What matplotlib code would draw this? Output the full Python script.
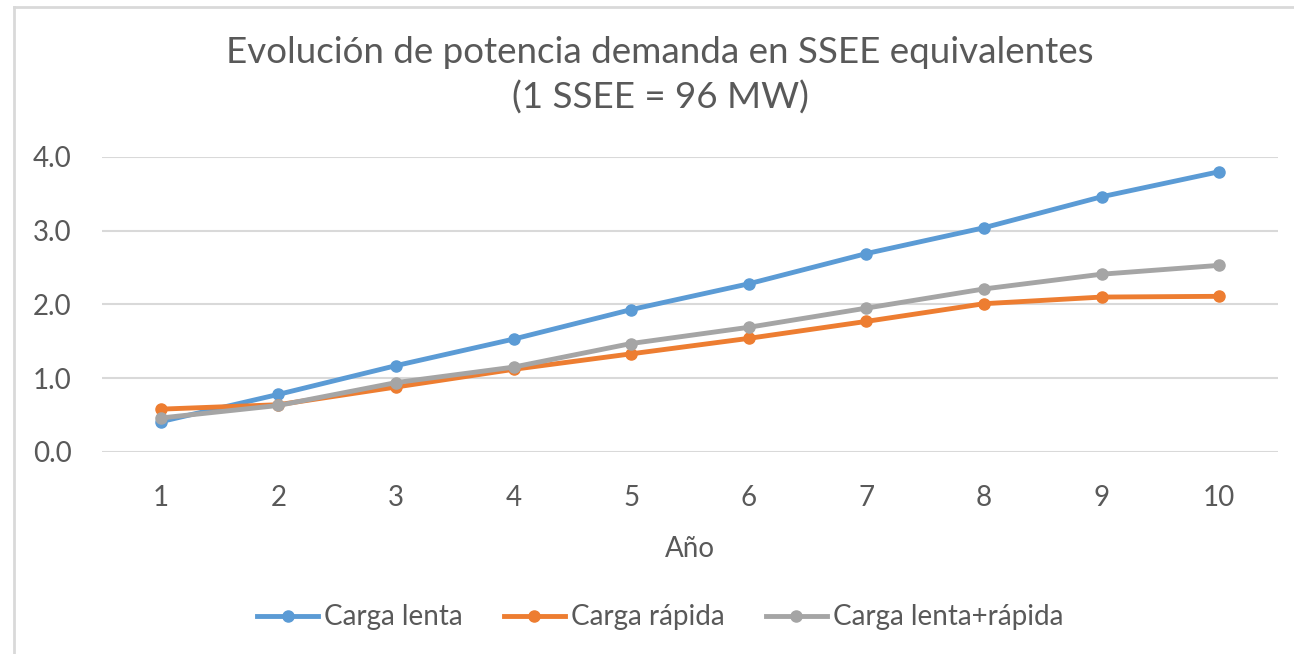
import matplotlib.pyplot as plt
from matplotlib.lines import Line2D

# -----------------------------
# Data
# -----------------------------
years = [1, 2, 3, 4, 5, 6, 7, 8, 9, 10]
carga_lenta = [0.41, 0.78, 1.17, 1.53, 1.93, 2.28, 2.69, 3.04, 3.46, 3.80]
carga_rapida = [0.58, 0.64, 0.88, 1.12, 1.33, 1.54, 1.77, 2.01, 2.10, 2.11]
carga_total = [0.46, 0.63, 0.94, 1.15, 1.47, 1.69, 1.95, 2.21, 2.41, 2.53]
y_ticks = [0.0, 1.0, 2.0, 3.0, 4.0]

series = [
    ("Carga lenta", carga_lenta, "#5B9BD5"),
    ("Carga rápida", carga_rapida, "#ED7D31"),
    ("Carga lenta+rápida", carga_total, "#A5A5A5"),
]

TEXT = "#595959"
GRID = "#D9D9D9"
plt.rcParams["font.family"] = ["Lato", "DejaVu Sans"]

fig = plt.figure(figsize=(12.94, 6.54), dpi=100)
ax = fig.add_axes([0.0788, 0.309, 0.9088, 0.451])

for label, vals, color in series:
    ax.plot(years, vals, color=color, lw=3.5, marker="o", ms=8,
            solid_capstyle="round", label=label)

ax.set_xlim(0.5, 10.5)
ax.set_ylim(0, 4)
ax.set_xticks(years)
ax.set_yticks(y_ticks)
ax.set_yticklabels([f"{v:.1f}" for v in y_ticks])
ax.grid(axis="y", color=GRID, lw=1.5)
ax.set_axisbelow(True)
for s in ax.spines.values():
    s.set_visible(False)
ax.tick_params(length=0, labelsize=20, colors=TEXT)
ax.tick_params(axis="x", pad=24)
ax.tick_params(axis="y", pad=22)
ax.set_xlabel("Año", fontsize=20, color=TEXT, labelpad=18)

fig.text(0.51, 0.885, "Evolución de potencia demanda en SSEE equivalentes\n(1 SSEE = 96 MW)",
         ha="center", va="center", fontsize=26.5, color=TEXT, linespacing=1.4)

handles = [Line2D([], [], color=c, lw=3.5, marker="o", ms=8) for _, _, c in series]
fig.legend(handles, [s[0] for s in series], loc="center", bbox_to_anchor=(0.51, 0.056),
           ncol=3, frameon=False, fontsize=20, labelcolor=TEXT,
           handlelength=2.2, handletextpad=0.2, columnspacing=1.5)

# light frame on the top and left edges of the screenshot
fig.add_artist(Line2D([0.011, 0.011], [0, 0.99], color=GRID, lw=2, transform=fig.transFigure))
fig.add_artist(Line2D([0.011, 1], [0.99, 0.99], color=GRID, lw=2, transform=fig.transFigure))

fig.savefig("out.png", dpi=100)
